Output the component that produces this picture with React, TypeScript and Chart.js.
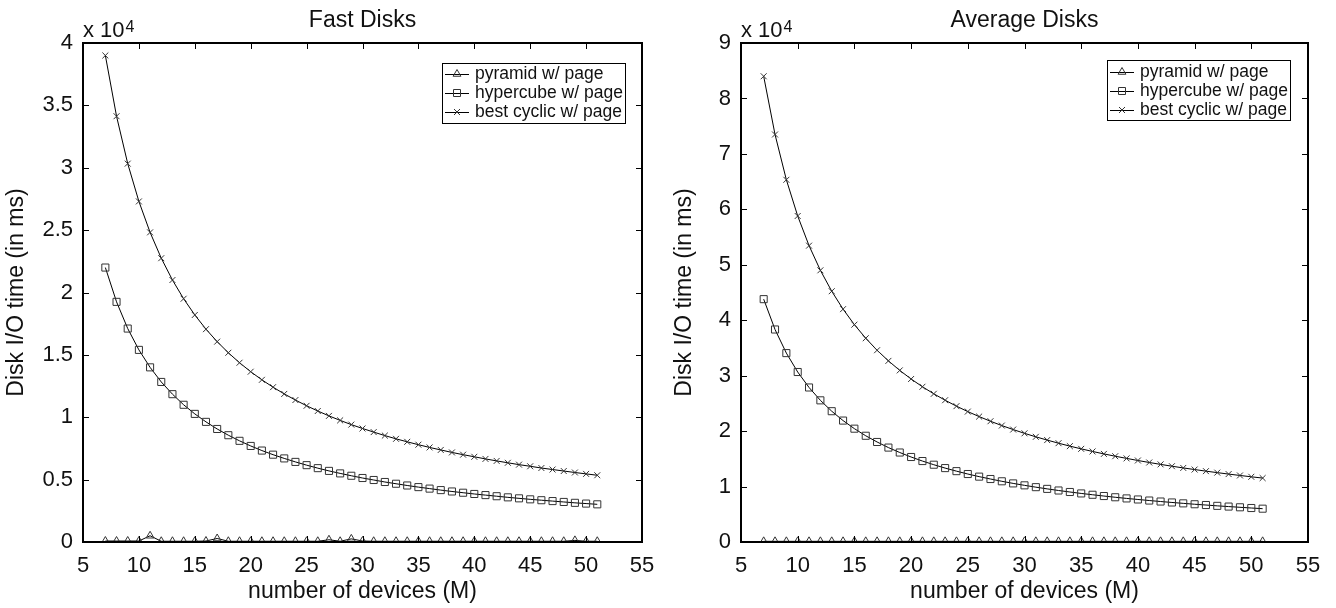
import React, { useEffect, useRef } from "react";
import { Chart, registerables } from "chart.js";

Chart.register(...registerables);

const devices = [7, 8, 9, 10, 11, 12, 13, 14, 15, 16, 17, 18, 19, 20, 21, 22, 23, 24, 25, 26, 27, 28, 29, 30, 31, 32, 33, 34, 35, 36, 37, 38, 39, 40, 41, 42, 43, 44, 45, 46, 47, 48, 49, 50, 51];

const fastPyramid = [80, 80, 80, 80, 500, 60, 60, 60, 60, 80, 280, 60, 60, 60, 60, 60, 60, 60, 60, 60, 180, 60, 250, 80, 60, 60, 60, 60, 60, 60, 60, 60, 60, 60, 60, 60, 60, 60, 60, 60, 60, 60, 130, 60, 60];
const fastHypercube = [22000, 19250, 17110, 15400, 14000, 12830, 11850, 11000, 10270, 9630, 9060, 8560, 8110, 7700, 7330, 7000, 6700, 6420, 6160, 5920, 5700, 5500, 5310, 5130, 4970, 4810, 4670, 4530, 4400, 4280, 4160, 4050, 3950, 3850, 3760, 3670, 3580, 3500, 3420, 3350, 3280, 3210, 3140, 3080, 3020];
const fastCyclic = [39000, 34130, 30330, 27300, 24820, 22750, 21000, 19500, 18200, 17060, 16060, 15170, 14370, 13650, 13000, 12410, 11870, 11380, 10920, 10500, 10110, 9750, 9410, 9100, 8810, 8530, 8270, 8030, 7800, 7580, 7380, 7180, 7000, 6830, 6660, 6500, 6350, 6200, 6070, 5930, 5810, 5690, 5570, 5460, 5350];

const avgPyramid = [120, 120, 120, 120, 120, 120, 120, 120, 120, 120, 120, 120, 120, 120, 120, 120, 120, 120, 120, 120, 120, 120, 120, 120, 120, 120, 120, 120, 120, 120, 120, 120, 120, 120, 120, 120, 120, 120, 120, 120, 120, 120, 120, 120, 120];
const avgHypercube = [43800, 38330, 34070, 30660, 27870, 25550, 23590, 21900, 20440, 19160, 18040, 17030, 16140, 15330, 14600, 13940, 13330, 12780, 12260, 11790, 11360, 10950, 10570, 10220, 9890, 9580, 9290, 9020, 8760, 8520, 8290, 8070, 7860, 7670, 7480, 7300, 7130, 6970, 6810, 6670, 6520, 6390, 6260, 6130, 6010];
const avgCyclic = [84000, 73500, 65330, 58800, 53450, 49000, 45230, 42000, 39200, 36750, 34590, 32670, 30950, 29400, 28000, 26730, 25570, 24500, 23520, 22620, 21780, 21000, 20280, 19600, 18970, 18380, 17820, 17290, 16800, 16330, 15890, 15470, 15080, 14700, 14340, 14000, 13670, 13360, 13070, 12780, 12510, 12250, 12000, 11760, 11530];

const seriesLabels = ["pyramid w/ page", "hypercube w/ page", "best cyclic w/ page"];
const seriesMarkers = ["triangle", "rect", "crossRot"];
const xTicks = [5, 10, 15, 20, 25, 30, 35, 40, 45, 50, 55];

const FONT = '"Liberation Sans", Arial, sans-serif';

function drawMarker(ctx: CanvasRenderingContext2D, kind: string, x: number, y: number) {
  ctx.beginPath();
  if (kind === "triangle") {
    const r = 4.5;
    ctx.moveTo(x, y - r);
    ctx.lineTo(x + r * 0.866, y + r * 0.5);
    ctx.lineTo(x - r * 0.866, y + r * 0.5);
    ctx.closePath();
  } else if (kind === "rect") {
    ctx.rect(x - 3.5, y - 3.5, 7, 7);
  } else {
    const d = 3;
    ctx.moveTo(x - d, y - d);
    ctx.lineTo(x + d, y + d);
    ctx.moveTo(x + d, y - d);
    ctx.lineTo(x - d, y + d);
  }
  ctx.stroke();
}

const framePlugin = {
  id: "frame",
  afterDraw(chart: any, _args: any, opts: any) {
    const { ctx, chartArea: a, scales } = chart;
    ctx.save();
    ctx.strokeStyle = "#000";
    ctx.lineWidth = 1;
    const tl = 6;
    ctx.beginPath();
    scales.x.ticks.forEach((t: any) => {
      const px = Math.round(scales.x.getPixelForValue(t.value)) + 0.5;
      ctx.moveTo(px, a.bottom);
      ctx.lineTo(px, a.bottom - tl);
      ctx.moveTo(px, a.top);
      ctx.lineTo(px, a.top + tl);
    });
    scales.y.ticks.forEach((t: any) => {
      const py = Math.round(scales.y.getPixelForValue(t.value)) + 0.5;
      ctx.moveTo(a.left, py);
      ctx.lineTo(a.left + tl, py);
      ctx.moveTo(a.right, py);
      ctx.lineTo(a.right - tl, py);
    });
    ctx.stroke();
    ctx.lineWidth = 2;
    ctx.strokeRect(a.left, a.top, a.right - a.left, a.bottom - a.top);

    // title
    ctx.fillStyle = "#111";
    ctx.font = `23px ${FONT}`;
    ctx.textAlign = "center";
    ctx.textBaseline = "middle";
    ctx.fillText(opts.title, (a.left + a.right) / 2, opts.titleY);

    // multiplier
    ctx.textAlign = "left";
    ctx.textBaseline = "alphabetic";
    ctx.font = `22px ${FONT}`;
    const base = "x 10";
    ctx.fillText(base, a.left, a.top - 6);
    const w = ctx.measureText(base).width;
    ctx.font = `16px ${FONT}`;
    ctx.fillText("4", a.left + w + 1, a.top - 11);

    // legend
    const L = opts.legend;
    ctx.fillStyle = "#fff";
    ctx.fillRect(L.x, L.y, L.w, L.h);
    ctx.lineWidth = 1;
    ctx.strokeStyle = "#000";
    ctx.strokeRect(L.x + 0.5, L.y + 0.5, L.w, L.h);
    ctx.font = `17.5px ${FONT}`;
    ctx.textBaseline = "middle";
    ctx.fillStyle = "#111";
    seriesLabels.forEach((lab, i) => {
      const yy = L.y + L.first + i * L.rowH;
      ctx.strokeStyle = "#000";
      ctx.beginPath();
      ctx.moveTo(L.x + 3, yy + 0.5);
      ctx.lineTo(L.x + 27, yy + 0.5);
      ctx.stroke();
      ctx.strokeStyle = "#333";
      drawMarker(ctx, seriesMarkers[i], L.x + 15, yy);
      ctx.fillText(lab, L.x + 33, yy);
    });
    ctx.restore();
  },
};

function makeConfig(vals: number[][], yMax: number, yStep: number, yWidth: number, padRight: number, title: string, legend: any) {
  const styles = [
    { pointStyle: "triangle", pointRadius: 4.5 },
    { pointStyle: "rect", pointRadius: 5 },
    { pointStyle: "crossRot", pointRadius: 4.2 },
  ];
  return {
    type: "line",
    data: {
      datasets: vals.map((v, i) => ({
        label: seriesLabels[i],
        data: devices.map((d, j) => ({ x: d, y: v[j] })),
        borderColor: "#000",
        borderWidth: 1,
        pointBorderColor: "#333",
        pointBackgroundColor: "rgba(0,0,0,0)",
        pointBorderWidth: 1,
        fill: false,
        tension: 0,
        ...styles[i],
      })),
    },
    options: {
      animation: false,
      responsive: false,
      devicePixelRatio: 1,
      layout: { padding: { top: 43, right: padRight, left: 0, bottom: 0 } },
      plugins: {
        legend: { display: false },
        tooltip: { enabled: false },
        frame: { title, titleY: 21, legend },
      },
      scales: {
        x: {
          type: "linear",
          min: 5,
          max: 55,
          afterBuildTicks: (s: any) => {
            s.ticks = xTicks.map((v) => ({ value: v }));
          },
          afterFit: (s: any) => {
            s.height = 66;
          },
          grid: { display: false, drawTicks: false },
          border: { display: false },
          ticks: { color: "#111", font: { family: FONT, size: 22 }, padding: 11, maxRotation: 0 },
          title: { display: true, text: "number of devices (M)", color: "#111", font: { family: FONT, size: 23 }, padding: { top: 0, bottom: 3 } },
        },
        y: {
          type: "linear",
          min: 0,
          max: yMax,
          ticks: {
            stepSize: yStep,
            color: "#111",
            font: { family: FONT, size: 22 },
            padding: 10,
            callback: (v: any) => String(Math.round((v / 10000) * 10) / 10),
          },
          afterFit: (s: any) => {
            s.width = yWidth;
          },
          grid: { display: false, drawTicks: false },
          border: { display: false },
          title: { display: true, text: "Disk I/O time (in ms)", color: "#111", font: { family: FONT, size: 23 }, padding: { top: 3, bottom: 0 } },
        },
      },
    },
    plugins: [framePlugin],
  };
}

function ChartPanel({ cfg, left }: { cfg: any; left: number }) {
  const ref = useRef<HTMLCanvasElement>(null);
  useEffect(() => {
    if (!ref.current) return;
    const c = new Chart(ref.current, cfg);
    return () => c.destroy();
  }, []);
  return <canvas ref={ref} width={668} height={608} style={{ position: "absolute", left, top: 0, width: 668, height: 608 }} />;
}

export default function App() {
  const leftCfg = makeConfig([fastPyramid, fastHypercube, fastCyclic], 40000, 5000, 83, 26, "Fast Disks", { x: 442, y: 63, w: 183, h: 60, first: 11, rowH: 19 });
  const rightCfg = makeConfig([avgPyramid, avgHypercube, avgCyclic], 90000, 10000, 73, 28, "Average Disks", { x: 439, y: 60, w: 183, h: 60, first: 12, rowH: 19 });
  return (
    <div style={{ position: "fixed", left: 0, top: 0, width: 1336, height: 608, background: "#fff" }}>
      <ChartPanel cfg={leftCfg} left={0} />
      <ChartPanel cfg={rightCfg} left={668} />
    </div>
  );
}
